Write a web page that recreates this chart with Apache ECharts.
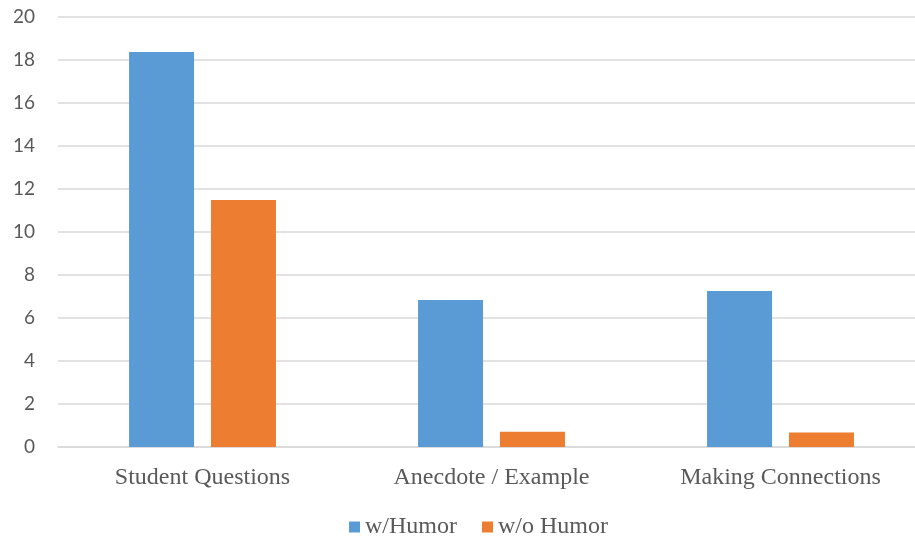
<!DOCTYPE html>
<html>
<head>
<meta charset="utf-8">
<script src="https://cdn.jsdelivr.net/npm/echarts@6/dist/echarts.min.js"></script>
<style>html,body{margin:0;padding:0;background:#fff;overflow:hidden;width:915px;height:538px}#c{width:925px;height:538px}</style>
</head>
<body>
<div id="c"></div>
<script>
var categories = ['Student Questions', 'Anecdote / Example', 'Making Connections'];
var withHumor = [18.37, 6.84, 7.26];
var withoutHumor = [11.49, 0.71, 0.68];
var seriesNames = ['w/Humor', 'w/o Humor'];
var yTicks = [0, 2, 4, 6, 8, 10, 12, 14, 16, 18, 20];

var chart = echarts.init(document.getElementById('c'), null, {renderer: 'canvas'});
chart.setOption({
  animation: false,
  backgroundColor: '#ffffff',
  grid: {left: 58, right: 0, top: 17, bottom: 91, containLabel: false},
  legend: {
    data: seriesNames,
    top: 515,
    left: 349,
    padding: 0,
    itemWidth: 11,
    itemHeight: 11,
    itemGap: 25,
    icon: 'rect',
    textStyle: {fontFamily: 'Liberation Serif', fontSize: 24, color: '#595959'}
  },
  xAxis: {
    type: 'category',
    data: categories,
    axisLine: {show: true, lineStyle: {color: '#d9d9d9', width: 1.5}},
    axisTick: {show: false},
    axisLabel: {fontFamily: 'Liberation Serif', fontSize: 24, color: '#595959', margin: 19}
  },
  yAxis: {
    type: 'value',
    min: 0,
    max: 20,
    interval: 2,
    axisLine: {show: false},
    axisTick: {show: false},
    splitLine: {lineStyle: {color: '#d9d9d9', width: 1.5}},
    axisLabel: {
      fontFamily: 'Lato', fontSize: 19, color: '#595959', margin: 23,
      formatter: function (v) { return yTicks.indexOf(v) >= 0 ? String(v) : ''; }
    }
  },
  series: [
    {name: seriesNames[0], type: 'bar', data: withHumor, barWidth: 65, barGap: '26%',
     itemStyle: {color: '#5b9bd5'}},
    {name: seriesNames[1], type: 'bar', data: withoutHumor, barWidth: 65, barGap: '26%',
     itemStyle: {color: '#ed7d31'}}
  ]
});
</script>
</body>
</html>
